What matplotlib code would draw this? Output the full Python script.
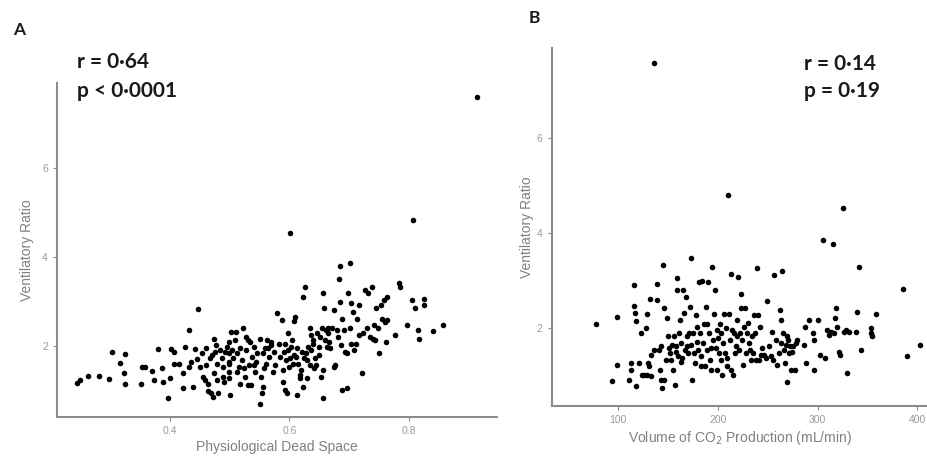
"""Ventilatory ratio vs dead space (A) and vs CO2 production (B)."""

import numpy as np
from matplotlib import pyplot as plt

# ---- Panel A: physiological dead space vs ventilatory ratio
dead_space = [
    0.244, 0.249, 0.263, 0.281, 0.297, 0.302, 0.316, 0.323, 0.325, 0.325,
    0.351, 0.353, 0.358, 0.369, 0.373, 0.380, 0.386, 0.389, 0.397, 0.400,
    0.402, 0.406, 0.407, 0.415, 0.421, 0.422, 0.425, 0.431, 0.432, 0.435,
    0.439, 0.442, 0.445, 0.447, 0.450, 0.453, 0.456, 0.459, 0.460, 0.461,
    0.463, 0.464, 0.467, 0.468, 0.470, 0.472, 0.473, 0.474, 0.475, 0.477,
    0.478, 0.479, 0.481, 0.484, 0.487, 0.488, 0.489, 0.491, 0.492, 0.495,
    0.498, 0.499, 0.499, 0.499, 0.499, 0.499, 0.501, 0.502, 0.503, 0.506,
    0.509, 0.511, 0.512, 0.513, 0.515, 0.517, 0.518, 0.520, 0.523, 0.524,
    0.526, 0.527, 0.528, 0.530, 0.531, 0.533, 0.534, 0.535, 0.537, 0.540,
    0.541, 0.542, 0.544, 0.546, 0.550, 0.551, 0.552, 0.554, 0.555, 0.556,
    0.558, 0.559, 0.561, 0.562, 0.565, 0.566, 0.569, 0.570, 0.572, 0.574,
    0.576, 0.579, 0.582, 0.584, 0.587, 0.589, 0.590, 0.591, 0.593, 0.593,
    0.594, 0.596, 0.597, 0.598, 0.600, 0.601, 0.601, 0.602, 0.604, 0.606,
    0.607, 0.608, 0.609, 0.611, 0.612, 0.613, 0.615, 0.617, 0.618, 0.619,
    0.621, 0.622, 0.623, 0.625, 0.626, 0.628, 0.629, 0.630, 0.632, 0.634,
    0.635, 0.636, 0.637, 0.639, 0.640, 0.641, 0.643, 0.645, 0.646, 0.649,
    0.650, 0.651, 0.653, 0.654, 0.656, 0.656, 0.657, 0.658, 0.660, 0.661,
    0.663, 0.664, 0.665, 0.667, 0.668, 0.671, 0.674, 0.675, 0.677, 0.679,
    0.682, 0.683, 0.685, 0.685, 0.686, 0.688, 0.689, 0.691, 0.693, 0.696,
    0.697, 0.699, 0.701, 0.702, 0.703, 0.704, 0.707, 0.708, 0.712, 0.714,
    0.716, 0.717, 0.721, 0.723, 0.727, 0.730, 0.732, 0.735, 0.738, 0.740,
    0.742, 0.744, 0.746, 0.749, 0.751, 0.753, 0.756, 0.758, 0.760, 0.762,
    0.763, 0.764, 0.777, 0.783, 0.785, 0.797, 0.805, 0.808, 0.811, 0.815,
    0.818, 0.825, 0.826, 0.841, 0.857, 0.915,
]
vr_a = [
    1.17, 1.23, 1.32, 1.33, 1.25, 1.87, 1.62, 1.39, 1.81, 1.13,
    1.13, 1.53, 1.53, 1.44, 1.23, 1.93, 1.49, 1.18, 0.82, 1.28,
    1.93, 1.87, 1.60, 1.60, 1.04, 1.38, 1.98, 1.53, 2.35, 1.64,
    1.08, 1.92, 1.71, 2.82, 1.53, 1.83, 1.30, 1.23, 1.57, 1.94,
    1.15, 0.99, 1.72, 0.93, 1.79, 0.84, 2.16, 1.38, 1.87, 2.01,
    1.60, 1.23, 0.93, 1.90, 1.72, 1.53, 1.30, 1.19, 1.87, 1.98,
    1.64, 2.09, 1.83, 1.60, 1.42, 1.27, 0.89, 2.31, 1.90, 1.72,
    2.13, 2.31, 1.83, 1.42, 1.53, 1.15, 1.94, 1.68, 2.39, 1.49,
    1.30, 2.20, 1.90, 1.12, 2.13, 1.57, 2.09, 1.12, 1.75, 1.98,
    1.57, 1.42, 1.64, 1.83, 0.70, 2.16, 1.30, 0.93, 1.83, 1.08,
    1.49, 1.94, 1.60, 2.13, 1.94, 1.75, 2.01, 2.09, 1.42, 1.87,
    1.57, 2.73, 2.05, 1.75, 2.58, 1.45, 1.19, 1.87, 2.05, 1.00,
    1.68, 0.93, 2.28, 1.90, 1.53, 1.72, 4.54, 1.98, 2.13, 1.60,
    2.55, 1.79, 2.65, 1.75, 0.89, 1.94, 1.60, 1.34, 1.27, 1.45,
    1.87, 1.08, 3.10, 1.72, 3.33, 1.83, 1.68, 1.27, 1.98, 2.39,
    1.57, 1.90, 2.24, 2.13, 2.05, 1.49, 1.72, 1.57, 2.29, 1.98,
    1.79, 2.20, 1.30, 2.39, 1.45, 3.18, 0.82, 2.84, 2.13, 2.35,
    1.98, 2.28, 2.39, 2.09, 1.94, 2.39, 2.80, 1.53, 1.57, 2.35,
    2.20, 3.51, 3.78, 2.99, 2.01, 2.61, 1.00, 2.35, 1.87, 1.83,
    1.04, 3.18, 3.85, 2.39, 2.05, 2.95, 2.76, 1.90, 2.05, 2.61,
    2.24, 2.91, 1.38, 2.28, 3.25, 2.39, 3.18, 2.20, 3.33, 2.16,
    2.46, 2.13, 2.84, 2.39, 1.83, 2.91, 2.61, 3.03, 2.54, 2.09,
    3.10, 2.58, 2.24, 3.40, 3.33, 2.46, 3.03, 4.82, 2.84, 2.35,
    2.16, 3.04, 2.91, 2.33, 2.46, 7.59,
]

# ---- Panel B: VCO2 (mL/min) vs ventilatory ratio
vco2 = [
    77.6, 94.3, 98.7, 99.3, 111.0, 112.7, 113.4, 116.0, 116.0, 116.7,
    117.7, 117.7, 121.0, 122.7, 124.4, 126.1, 127.7, 128.7, 129.4, 130.1,
    131.1, 132.1, 132.7, 133.4, 136.1, 138.8, 139.4, 141.1, 142.1, 142.8,
    143.4, 144.4, 145.4, 146.1, 146.1, 147.8, 149.4, 150.1, 151.1, 152.1,
    152.8, 154.5, 155.5, 156.1, 156.8, 157.8, 158.5, 159.5, 159.5, 160.1,
    161.1, 162.1, 162.8, 163.5, 164.5, 165.5, 166.2, 166.8, 167.8, 168.8,
    169.5, 170.2, 171.2, 172.2, 172.8, 173.5, 174.5, 175.5, 176.2, 176.8,
    177.8, 178.9, 179.5, 180.2, 181.2, 182.2, 182.9, 183.5, 184.5, 185.5,
    186.2, 186.9, 187.9, 188.9, 189.5, 190.2, 191.2, 192.2, 192.9, 193.6,
    194.6, 195.6, 196.2, 196.9, 197.9, 198.9, 199.6, 200.2, 201.2, 202.2,
    202.9, 203.6, 204.6, 205.6, 206.2, 206.9, 207.9, 208.9, 209.6, 210.3,
    211.3, 212.3, 212.9, 213.6, 214.6, 215.6, 216.3, 216.9, 217.9, 218.9,
    219.6, 220.3, 221.3, 222.3, 223.0, 223.6, 224.6, 225.6, 226.3, 227.0,
    228.0, 229.0, 230.3, 231.3, 232.3, 233.6, 234.6, 235.6, 236.3, 237.0,
    238.0, 239.7, 240.3, 241.3, 242.3, 243.7, 244.7, 246.3, 248.0, 249.7,
    251.4, 253.0, 254.7, 255.7, 256.4, 258.0, 259.7, 261.4, 262.4, 263.0,
    263.7, 264.7, 265.7, 266.4, 267.1, 268.1, 269.1, 269.7, 270.4, 271.4,
    272.4, 273.1, 274.7, 275.7, 277.1, 278.1, 279.8, 286.4, 287.1, 288.1,
    291.4, 295.8, 296.5, 296.5, 300.5, 302.5, 305.8, 307.1, 309.2, 311.5,
    313.2, 315.8, 316.5, 317.2, 318.2, 319.2, 321.5, 322.5, 325.9, 326.5,
    328.2, 329.9, 331.5, 338.2, 339.9, 341.6, 343.2, 353.9, 353.9, 354.9,
    358.3, 386.0, 390.0, 402.7, 136.1,
]
vr_b = [
    2.09, 0.90, 1.23, 2.24, 0.92, 1.28, 1.13, 2.91, 2.47, 2.33,
    2.16, 0.79, 1.28, 1.91, 1.02, 1.02, 2.00, 1.02, 2.31, 1.28,
    1.20, 2.61, 1.44, 0.99, 1.55, 2.94, 2.59, 1.55, 1.13, 0.92,
    1.62, 0.74, 3.33, 2.42, 0.92, 1.34, 2.21, 1.83, 1.58, 1.48,
    1.34, 1.65, 1.13, 1.83, 0.81, 1.51, 1.62, 3.05, 2.80, 1.41,
    1.90, 2.17, 1.69, 1.30, 1.37, 2.80, 2.33, 1.55, 2.66, 1.83,
    1.62, 1.48, 1.91, 2.45, 3.47, 1.65, 0.92, 1.90, 1.48, 1.27,
    2.28, 1.72, 2.03, 1.55, 2.98, 1.90, 1.21, 1.41, 3.00, 1.69,
    2.10, 1.20, 2.45, 2.10, 1.55, 2.98, 1.90, 1.34, 1.58, 1.13,
    3.29, 1.76, 2.31, 2.80, 1.58, 1.13, 1.97, 1.79, 1.48, 2.10,
    1.34, 1.90, 1.02, 1.69, 2.31, 1.48, 2.00, 1.20, 1.37, 4.80,
    2.31, 1.76, 1.13, 3.15, 1.97, 1.02, 1.90, 1.48, 1.62, 2.17,
    1.83, 3.08, 1.55, 1.90, 2.42, 2.72, 1.76, 1.23, 2.03, 2.42,
    1.48, 1.90, 2.12, 1.69, 1.55, 1.34, 1.83, 1.48, 2.28, 1.90,
    1.34, 3.26, 2.28, 1.34, 2.03, 1.44, 1.58, 1.44, 1.37, 2.57,
    1.62, 1.41, 1.93, 1.34, 3.12, 1.76, 1.23, 1.48, 2.38, 2.17,
    1.69, 3.21, 1.90, 1.55, 1.27, 1.65, 0.88, 1.83, 1.76, 1.48,
    1.62, 1.13, 1.51, 1.62, 1.13, 1.69, 1.76, 1.65, 2.03, 1.28,
    2.17, 1.90, 1.76, 1.13, 2.17, 1.44, 3.85, 1.37, 1.97, 1.86,
    1.93, 3.78, 1.90, 2.21, 2.42, 2.03, 1.51, 1.44, 4.52, 1.93,
    1.97, 1.06, 1.93, 1.93, 2.35, 3.29, 1.55, 2.00, 1.90, 1.83,
    2.31, 2.82, 1.42, 1.65, 7.56,
]

grey = '#8c8c8c'
plt.rcParams['font.family'] = ['Liberation Sans', 'DejaVu Sans']

fig = plt.figure(figsize=(9.28, 4.62), dpi=100)
W, H = 928.0, 462.0

def style_axes(ax):
    for side in ('top', 'right'):
        ax.spines[side].set_visible(False)
    for side in ('left', 'bottom'):
        ax.spines[side].set_color(grey)
        ax.spines[side].set_linewidth(1.5)
    ax.tick_params(colors=grey, labelcolor='#9a9a9a', labelsize=7.5,
                   length=3, width=0.8)

# Panel A
ax1 = fig.add_axes([57 / W, 1 - 417 / H, 440 / W, 334 / H])
ax1.scatter(dead_space, vr_a, s=16, color='black', linewidths=0)
ax1.set_xlim(0.2105, 0.948)
ax1.set_ylim(0.40, 7.90)
ax1.set_xticks([0.4, 0.6, 0.8])
ax1.set_yticks([2, 4, 6])
style_axes(ax1)
ax1.set_xlabel('Physiological Dead Space', color='#808080', fontsize=10, labelpad=3)
ax1.set_ylabel('Ventilatory Ratio', color='#808080', fontsize=10, labelpad=6)

# Panel B
ax2 = fig.add_axes([551.7 / W, 1 - 406 / H, (W - 551.7) / W, 358.3 / H])
ax2.scatter(vco2, vr_b, s=16, color='black', linewidths=0)
ax2.set_xlim(33.6, 410.6)
ax2.set_ylim(0.37, 7.89)
ax2.set_xticks([100, 200, 300, 400])
ax2.set_yticks([2, 4, 6])
style_axes(ax2)
ax2.set_xlabel('Volume of CO$_2$ Production (mL/min)', color='#808080', fontsize=10, labelpad=3)
ax2.set_ylabel('Ventilatory Ratio', color='#808080', fontsize=10, labelpad=2)

# Panel letters and stats
bold = dict(fontweight='bold', family=['Lato', 'DejaVu Sans'], color='#1a1a1a')
fig.text(13 / W, 1 - 35 / H, 'A', fontsize=12.5, va='baseline', **bold)
fig.text(529 / W, 1 - 23 / H, 'B', fontsize=12.5, va='baseline', **bold)
fig.text(77 / W, 1 - 68 / H, 'r = 0\u00b764', fontsize=15, va='baseline', **bold)
fig.text(77 / W, 1 - 97 / H, 'p < 0\u00b70001', fontsize=15, va='baseline', **bold)
fig.text(804 / W, 1 - 70 / H, 'r = 0\u00b714', fontsize=15, va='baseline', **bold)
fig.text(804 / W, 1 - 97 / H, 'p = 0\u00b719', fontsize=15, va='baseline', **bold)

fig.savefig('out.png', dpi=100)
